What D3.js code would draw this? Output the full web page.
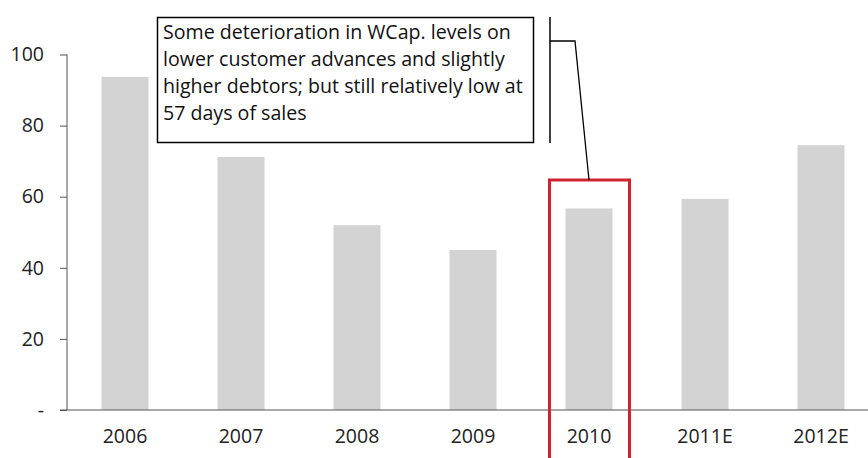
<!DOCTYPE html>
<html><head><meta charset="utf-8">
<script src="https://cdn.jsdelivr.net/npm/d3@7"></script>
<style>body{margin:0;background:#fff}svg{display:block}</style>
</head><body>
<script>
const categories = ["2006","2007","2008","2009","2010","2011E","2012E"];
const values = [93.7, 71.2, 52.0, 45.0, 56.7, 59.4, 74.5];
const yTicks = [0,20,40,60,80,100];
const noteLines = ["Some deterioration in WCap. levels on","lower customer advances and slightly","higher debtors; but still relatively low at","57 days of sales"];
const highlight = "2010";

const W=868,H=458;
const svg=d3.select("body").append("svg").attr("width",W).attr("height",H);
const font="'Open Sans', sans-serif";
const x=d3.scaleBand().domain(categories).range([67,67+116*7]).paddingInner(0.595).paddingOuter(0.2975);
const y=d3.scaleLinear().domain([0,100]).range([410,54.5]);

svg.selectAll("rect.bar").data(values).enter().append("rect")
 .attr("x",(d,i)=>x(categories[i])).attr("width",x.bandwidth())
 .attr("y",d=>y(d)).attr("height",d=>y(0)-y(d)).attr("fill","#d3d3d3");

const ya=svg.append("g").attr("transform","translate(67,0)")
 .call(d3.axisLeft(y).tickValues(yTicks).tickSize(7).tickPadding(16).tickFormat(d=>d===0?"-":d));
ya.select(".domain").attr("stroke","#555").attr("d","M0,54.5V410");
ya.selectAll(".tick line").attr("stroke","#555");
ya.selectAll("text").attr("font-family",font).attr("font-size",19.5).attr("fill","#222");

const xa=svg.append("g").attr("transform","translate(0,410)")
 .call(d3.axisBottom(x).tickSize(0).tickPadding(19));
xa.select(".domain").attr("stroke","#555").attr("d","M60,0H868");
xa.selectAll("text").attr("font-family",font).attr("font-size",19.5).attr("fill","#222");

// highlight box
const hx=x(highlight)+x.bandwidth()/2;
svg.append("path").attr("d",`M${hx-39.5},470V180H${hx+40.5}V470`)
 .attr("fill","none").attr("stroke","#d0232f").attr("stroke-width",3);

// annotation
svg.append("rect").attr("x",157.5).attr("y",17.5).attr("width",376).attr("height",125)
 .attr("fill","#fff").attr("stroke","#000").attr("stroke-width",1.5);
const t=svg.append("text").attr("font-family",font).attr("font-size",19.6).attr("fill","#111");
noteLines.forEach((l,i)=>t.append("tspan").attr("x",163).attr("y",39+i*27).text(l));
svg.append("line").attr("x1",550).attr("x2",550).attr("y1",17).attr("y2",143).attr("stroke","#000").attr("stroke-width",1.5);
svg.append("path").attr("d",`M550,41H575L${hx},180`).attr("fill","none").attr("stroke","#000").attr("stroke-width",1.3);
</script>
</body></html>
